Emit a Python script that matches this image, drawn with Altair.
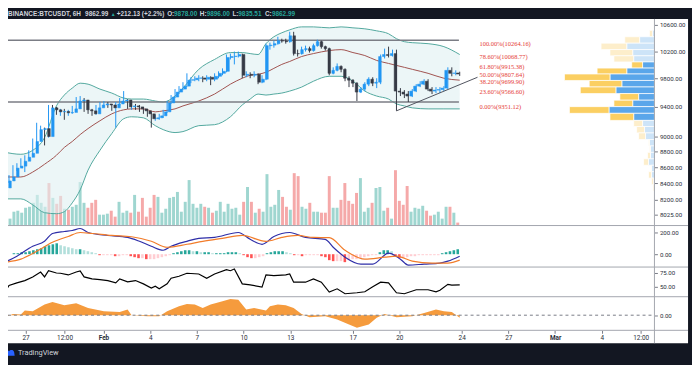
import altair as alt
import pandas as pd
import numpy as np

# ---------------- data ----------------
first_open = 8345
closes = [8431, 8480, 8591, 8616, 8678, 8729, 8780, 8933, 9090, 9104,
          8998, 9385, 9358, 9330, 9336, 9317, 9322, 9371, 9480, 9494,
          9358, 9344, 9303, 9385, 9425, 9439, 9425, 9385, 9439, 9480,
          9494, 9398, 9412, 9398, 9371, 9344, 9303, 9236, 9249, 9276,
          9330, 9453, 9535, 9605, 9647, 9689, 9774, 9780, 9802, 9806,
          9788, 9816, 9788, 9830, 9873, 9902, 10105, 10119, 10125, 10149,
          9845, 9859, 9845, 9859, 9745, 9788, 10282, 10290, 10312, 10357,
          10352, 10342, 10432, 10163, 10160, 10222, 10237, 10208, 10282, 10342,
          10267, 10237, 9873, 9916, 9974, 9931, 9802, 9774, 9731, 9605,
          9647, 9717, 9788, 9731, 9745, 10119, 10149, 10134, 10163, 9619,
          9605, 9577, 9549, 9619, 9689, 9717, 9759, 9647, 9619, 9633,
          9640, 9661, 9916, 9873, 9878, 9862.99]
highs = [8455, 8504, 8628, 8653, 8716, 8754, 8818, 8972, 9182, 9143,
         9117, 9425, 9425, 9398, 9371, 9371, 9358, 9412, 9535, 9549,
         9521, 9398, 9371, 9425, 9466, 9480, 9466, 9439, 9466, 9521,
         9619, 9507, 9453, 9439, 9425, 9398, 9371, 9330, 9290, 9303,
         9358, 9480, 9563, 9647, 9689, 9745, 9873, 9816, 9830, 9845,
         9830, 9845, 9830, 9873, 9902, 9945, 10149, 10163, 10193, 10193,
         10163, 9902, 9888, 9902, 9873, 9845, 10312, 10327, 10357, 10417,
         10387, 10387, 10493, 10493, 10222, 10267, 10282, 10267, 10312, 10372,
         10357, 10282, 10252, 9960, 10017, 9988, 9945, 9830, 9788, 9745,
         9675, 9745, 9816, 9816, 9802, 10149, 10237, 10267, 10222, 10222,
         9661, 9633, 9619, 9647, 9717, 9759, 9788, 9788, 9675, 9675,
         9675, 9689, 9960, 9960, 9916, 9896]
lows = [8321, 8406, 8470, 8554, 8603, 8541, 8716, 8754, 8920, 9038,
        8882, 8985, 9317, 9290, 9276, 9222, 9276, 9303, 9358, 9453,
        9330, 9303, 9276, 9290, 9371, 9398, 9385, 9344, 9117, 9412,
        9453, 9371, 9358, 9358, 9330, 9303, 9263, 9117, 9209, 9222,
        9249, 9317, 9439, 9521, 9577, 9633, 9675, 9731, 9759, 9759,
        9745, 9759, 9703, 9759, 9802, 9845, 9888, 10076, 10003, 10105,
        9802, 9816, 9802, 9816, 9717, 9731, 9774, 10222, 10252, 10297,
        10327, 10312, 10327, 10134, 10119, 10149, 10193, 10178, 10193, 10267,
        10237, 10208, 9845, 9859, 9902, 9888, 9759, 9675, 9675, 9480,
        9591, 9619, 9689, 9689, 9661, 9717, 10090, 10105, 10119, 9344,
        9549, 9521, 9466, 9535, 9605, 9675, 9703, 9619, 9577, 9591,
        9591, 9619, 9647, 9830, 9845, 9835.51]
volumes = [3150, 6300, 6750, 5850, 8100, 8550, 10350, 13950, 10350, 8550,
           19350, 12600, 9900, 13500, 7650, 7200, 8550, 9450, 19800, 10350,
           8100, 10350, 11700, 4950, 4950, 5400, 6750, 4050, 10800, 5850,
           6750, 5850, 13950, 6300, 12600, 4050, 8100, 13950, 13050, 5850,
           7650, 12600, 13050, 15300, 6300, 10800, 20700, 9900, 8100, 9900,
           8550, 8100, 5850, 6750, 10800, 6300, 9900, 7650, 8100, 4950,
           10800, 17550, 10800, 5850, 7650, 6300, 23400, 8550, 9450, 16200,
           13050, 8550, 7200, 23850, 22500, 8550, 7650, 10350, 6300, 6300,
           5850, 5850, 22500, 8100, 8100, 11700, 19350, 11250, 9900, 14850,
           21600, 6300, 8100, 10350, 17100, 17550, 6750, 8100, 3150, 25200,
           11250, 9450, 18000, 6300, 8100, 7650, 9000, 6750, 4500, 4950,
           6300, 3150, 8550, 8550, 5850, 1350]
macd_hist = [0, 9, 9, 18, 18, 27, 36, 45, 54, 72,
             81, 90, 99, 81, 72, 63, 54, 45, 45, 36,
             27, 18, 9, -9, -9, -9, -9, -18, -18, -9,
             -9, -18, -27, -36, -36, -45, -45, -45, -36, -27,
             -18, -9, 9, 18, 27, 36, 36, 27, 27, 18,
             18, 18, 9, 9, 9, 9, 18, 18, 18, 9,
             -9, -27, -36, -36, -27, -18, 9, 18, 27, 27,
             27, 18, 9, -9, -9, -18, -9, -9, -9, -9,
             -18, -27, -54, -63, -63, -63, -72, -54, -45, -45,
             -36, -27, -18, -9, -9, 18, 36, 36, 27, -18,
             -36, -36, -27, -18, -18, -9, -9, -9, -9, -9,
             -9, 9, 18, 27, 36, 45]

# Bollinger bands (candle index, upper, basis, lower)
bb_idx = [0, 4, 7, 10, 13, 15, 17, 19, 21, 24, 27, 30, 32, 35, 38, 40, 43, 45, 49, 53, 57,
          60, 62, 64, 66, 68, 70, 72, 75, 78, 82, 85, 88, 91, 94, 97, 99, 101, 103, 107, 111, 115]
bb_upper = [8793, 8767, 8818, 8985, 9412, 9563, 9661, 9731, 9717, 9647, 9591, 9521, 9507, 9507,
            9480, 9466, 9549, 9661, 9931, 10076, 10178, 10178, 10163, 10149, 10312, 10417, 10478,
            10523, 10569, 10569, 10554, 10569, 10554, 10539, 10508, 10463, 10387, 10342, 10327,
            10312, 10267, 10149]
bb_basis = [8480, 8480, 8541, 8640, 8754, 8856, 8933, 9024, 9104, 9209, 9303, 9358, 9371, 9371,
            9330, 9344, 9371, 9412, 9480, 9577, 9717, 9802, 9845, 9859, 9888, 9945, 10003, 10046,
            10119, 10163, 10208, 10222, 10178, 10134, 10061, 10017, 9988, 9960, 9931, 9873, 9802, 9774]
bb_lower = [8212, 8212, 8141, 8047, 8035, 8059, 8164, 8321, 8566, 8818, 9038, 9236, 9263, 9249,
            9143, 9090, 9051, 9064, 9143, 9156, 9263, 9425, 9507, 9577, 9563, 9577, 9591, 9619,
            9675, 9759, 9830, 9830, 9759, 9619, 9549, 9507, 9439, 9412, 9385, 9371, 9371, 9371]

# MACD line and signal line
macd_idx = [0, 3, 7, 10, 12, 15, 17, 19, 21, 26, 31, 34, 37, 40, 42, 46, 49, 53, 59, 62, 65, 68,
            72, 76, 81, 83, 86, 90, 93, 97, 100, 102, 106, 110, 112, 115]
macd_val = [-72, -18, 72, 117, 188, 206, 215, 233, 197, 170, 152, 117, 72, 36, 72, 117, 144, 152,
            197, 135, 90, 161, 197, 152, 135, 63, -27, -90, -90, 9, -45, -99, -90, -81, -63, -18]
sig_idx = [0, 4, 8, 12, 16, 19, 22, 27, 32, 37, 41, 46, 50, 55, 60, 66, 70, 74, 78, 82, 86, 91,
           96, 99, 103, 108, 112, 115]
sig_val = [-72, -45, 27, 108, 161, 197, 188, 170, 158, 117, 63, 90, 117, 144, 170, 117, 152, 170,
           152, 150, 36, -45, -27, -18, -63, -81, -81, -54]

# third pane (black line)
rsi_idx = [0, 1, 3, 5, 7, 9, 10, 11, 13, 14, 16, 18, 19, 20, 22, 24, 26, 28, 29, 31, 33, 35, 37,
           38, 39, 41, 42, 44, 46, 49, 51, 53, 56, 57, 58, 60, 62, 65, 66, 68, 71, 72, 73, 76, 78,
           80, 82, 84, 86, 89, 91, 93, 95, 97, 99, 101, 104, 107, 109, 110, 112, 113, 115]
rsi_val = [39.8, 51.8, 56.8, 61.0, 67.7, 76.8, 67.7, 79.2, 75.0, 74.5, 71.4, 76.8, 78.7, 67.7,
           64.1, 62.8, 61.0, 56.8, 64.1, 58.6, 61.0, 54.9, 47.1, 50.7, 45.8, 54.9, 65.3, 69.0,
           74.5, 73.2, 65.3, 73.2, 81.0, 79.2, 82.3, 54.9, 53.1, 48.9, 71.4, 70.1, 71.4, 73.2,
           58.0, 58.0, 64.1, 58.0, 39.8, 45.8, 36.7, 38.5, 40.3, 49.5, 58.0, 56.8, 38.5, 36.7,
           44.0, 44.0, 40.3, 43.1, 54.0, 52.6, 53.1]

# fourth pane (orange oscillator)
osc_idx = [0, 2, 4, 5, 7, 10, 12, 15, 18, 21, 25, 29, 31, 32, 36, 39, 41, 44, 46, 48, 50, 52, 55,
           57, 59, 61, 63, 66, 67, 69, 71, 73, 75, 77, 81, 84, 87, 89, 92, 94, 96, 99, 103, 106,
           109, 111, 113, 115]
osc_val = [-20, 13, 7, 47, 40, 107, 133, 100, 120, 73, 40, 33, 57, 0, -10, -10, 40, 90, 113, 107,
           73, 107, 140, 163, 157, 57, 73, 47, 90, 107, 100, 73, 13, -20, -10, -43, -93, -127,
           -93, -27, 13, -20, -10, 23, 57, 40, 33, -27]

# volume profile rows (price edges) and buy / sell volume per row
vp_edges = [10516, 10417, 10319, 10223, 10130, 10039, 9949, 9863, 9770, 9677, 9584, 9491, 9402,
            9310, 9214, 9132, 9046, 8959, 8875, 8792, 8709, 8627, 8546, 8466, 8386, 8308]
vp_buy = [2, 15, 28, 22, 21, 12, 28, 45, 33, 39, 16, 22, 46, 21, 12, 10, 9, 5, 4, 4, 6, 3, 3, 1, 0.5]
vp_sell = [3, 15, 26, 23, 20, 11, 30, 46, 33, 36, 19, 19, 40, 24, 9, 8, 7, 1, 1, 3, 5, 0.5, 3, 2, 1]
vp_value_area = [False, False, False, False, False, True, True, True, True, True, True, True, True,
                 True, False, False, False, False, False, False, False, False, False, False, False]

channel_levels = [10364, 9466]
fib_pct = ["100.00%", "78.60%", "61.80%", "50.00%", "38.20%", "23.60%", "0.00%"]
fib_price = [10264.16, 10068.77, 9915.38, 9807.64, 9699.90, 9566.60, 9351.12]
trend_t = ["2020-02-19 18:00", "2020-02-24 21:00"]
trend_p = [9344, 9816]

tick_days = [0, 2.5, 5, 8, 11, 14, 17, 21, 24, 28, 31, 34, 37, 39.5]
tick_text = ["27", "12:00", "Feb", "4", "7", "10", "13", "17", "20", "24", "27", "Mar", "4", "12:00"]

# ---------------- tables ----------------
day0 = pd.Timestamp("2020-01-27")
times = pd.date_range("2020-01-26 00:00", periods=len(closes), freq="6h")
tday = np.asarray((times - day0) / pd.Timedelta(days=1))

BULL, BEAR = "#2196f3", "#363a45"
c = pd.DataFrame({"t": tday, "close": closes, "high": highs, "low": lows,
                  "volume": volumes, "hist": macd_hist})
c["open"] = [first_open] + closes[:-1]
up = c["close"] >= c["open"]
c["ccol"] = np.where(up, BULL, BEAR)
c["vcol"] = np.where(up, "#9fd6d0", "#f5a9a9")
prev = c["hist"].shift(1).fillna(0)
h = c["hist"]
c["hcol"] = np.select([(h >= 0) & (h >= prev), h >= 0, h < prev],
                      ["#26a69a", "#b2dfdb", "#ff5252"], default="#ffcdd2")

bb = pd.DataFrame({"t": tday[bb_idx], "upper": bb_upper, "basis": bb_basis, "lower": bb_lower})
macd = pd.DataFrame({"t": tday[macd_idx], "v": macd_val})
sig = pd.DataFrame({"t": tday[sig_idx], "v": sig_val})
rsi = pd.DataFrame({"t": tday[rsi_idx], "v": rsi_val})
osc = pd.DataFrame({"t": tday[osc_idx], "v": osc_val})

rows = []
for k in range(len(vp_buy)):
    top, bot = vp_edges[k], vp_edges[k + 1]
    va = vp_value_area[k]
    rows.append({"top": top, "bot": bot, "a": 0, "b": vp_buy[k],
                 "col": "#5aa6ea" if va else "#cde4f8"})
    rows.append({"top": top, "bot": bot, "a": vp_buy[k], "b": vp_buy[k] + vp_sell[k],
                 "col": "#fbcf62" if va else "#fdeecb"})
vp = pd.DataFrame(rows)

chan = pd.DataFrame({"p": channel_levels, "t0": tday[0], "t1": 27.7})
fib = pd.DataFrame({"p": fib_price, "label": [f"{a}({b:.2f})" for a, b in zip(fib_pct, fib_price)]})
fib["t"] = 29.0
trend = pd.DataFrame({"t": (pd.to_datetime(trend_t) - day0) / pd.Timedelta(days=1), "p": trend_p})

# ---------------- scales ----------------
W, H = 688, 328
XS = alt.Scale(domain=[-0.8125, 40.0625], range=[0, 654], nice=False, zero=False)
PS = alt.Scale(type="log", domain=[7896.8, 10692.6], range=[209, 0], nice=False)
VS = alt.Scale(domain=[0, 94050], range=[209, 0], nice=False)
MS = alt.Scale(domain=[-116.6, 260], range=[251, 209], nice=False, zero=False)
RS = alt.Scale(domain=[31.2, 85.95], range=[281, 251], nice=False, zero=False)
OS = alt.Scale(domain=[-153, 187], range=[315, 281], nice=False, zero=False)
VPX = alt.Scale(domain=[0, 654], range=[654, 0], nice=False, zero=False)

AX_FONT = "Roboto"
def yaxis(vals):
    return alt.Axis(orient="right", offset=-34, values=vals, format=".2f", domain=False,
                    grid=False, title=None, tickSize=3, tickColor="#787b86",
                    labelFontSize=6.2, labelColor="#2a2e39", labelFont=AX_FONT, labelPadding=2)

expr = ""
for v, l in zip(tick_days, tick_text):
    expr += f"datum.value == {v} ? '{l}' : "
expr += "''"
xaxis = alt.Axis(values=tick_days, labelExpr=expr, orient="bottom", offset=-13, domain=False,
                 grid=False, title=None, tickSize=3, tickColor="#787b86", labelFontSize=6.5,
                 labelColor="#2a2e39", labelFont=AX_FONT, labelPadding=1, labelFlush=False,
                 labelOverlap=False,
                 labelFontWeight={"condition": {"test": "datum.value == 5 || datum.value == 34",
                                                "value": "bold"}, "value": "normal"})

def X(f="t"):
    return alt.X(f"{f}:Q", scale=XS, axis=None)

def Y(f, s=PS):
    return alt.Y(f"{f}:Q", scale=s, axis=None)

# ---------------- layers ----------------
vol = alt.Chart(c).mark_bar(size=3).encode(X(), Y("volume", VS), color=alt.Color("vcol:N", scale=None))
bb_fill = alt.Chart(bb).mark_area(color="#dff0f2", opacity=0.6, interpolate="monotone").encode(
    X(), Y("upper"), y2="lower:Q")
bb_up = alt.Chart(bb).mark_line(color="#52a89e", strokeWidth=1, interpolate="monotone").encode(X(), Y("upper"))
bb_lo = alt.Chart(bb).mark_line(color="#52a89e", strokeWidth=1, interpolate="monotone").encode(X(), Y("lower"))
bb_mid = alt.Chart(bb).mark_line(color="#a0524f", strokeWidth=1, interpolate="monotone").encode(X(), Y("basis"))
chan_l = alt.Chart(chan).mark_rule(color="#7b7d85", strokeWidth=1.5).encode(X("t0"), x2="t1:Q", y=Y("p"))
wick = alt.Chart(c).mark_rule(strokeWidth=1).encode(X(), Y("low"), y2="high:Q",
                                                    color=alt.Color("ccol:N", scale=None))
body = alt.Chart(c).mark_bar(size=2.6, strokeWidth=0.5).encode(
    alt.X("t:Q", scale=XS, axis=xaxis),
    alt.Y("open:Q", scale=PS, axis=yaxis([8025, 8200, 8400, 8600, 8800, 9000, 9400, 9800, 10200, 10600])),
    y2="close:Q", color=alt.Color("ccol:N", scale=None), stroke=alt.Stroke("ccol:N", scale=None))
trend_l = alt.Chart(trend).mark_line(color="#50535e", strokeWidth=1).encode(X(), Y("p"))
fib_t = alt.Chart(fib).mark_text(align="left", baseline="bottom", fontSize=6.5, color="#e53935",
                                 font="Liberation Sans Narrow").encode(X(), Y("p"), text="label:N")
vp_l = alt.Chart(vp).mark_bar(stroke="white", strokeWidth=0.7).encode(
    alt.X("a:Q", scale=VPX, axis=None), x2="b:Q", y=Y("top"), y2="bot:Q",
    color=alt.Color("col:N", scale=None))

hist_l = alt.Chart(c).mark_bar(size=2.6).encode(X(), Y("hist", MS), color=alt.Color("hcol:N", scale=None))
macd_l = alt.Chart(macd).mark_line(color="#2e2ea8", strokeWidth=1.2, interpolate="monotone").encode(
    X(), alt.Y("v:Q", scale=MS, axis=yaxis([0, 200])))
sig_l = alt.Chart(sig).mark_line(color="#f27c2a", strokeWidth=1.2, interpolate="monotone").encode(X(), Y("v", MS))
rsi_l = alt.Chart(rsi).mark_line(color="#000000", strokeWidth=1.2).encode(
    X(), alt.Y("v:Q", scale=RS, axis=yaxis([50, 75])))
osc_a = alt.Chart(osc).mark_area(color="#f59b3d", opacity=1, interpolate="linear").encode(
    X(), alt.Y("v:Q", scale=OS, axis=yaxis([0])), y2=alt.Y2Datum(0))
zero_l = alt.Chart(pd.DataFrame({"z": [0]})).mark_rule(color="#787b86", strokeDash=[3, 3], strokeWidth=1).encode(
    x=alt.value(0), x2=alt.value(654), y=alt.Y("z:Q", scale=OS, axis=None))

def hrule(yv):
    return alt.Chart(pd.DataFrame({"k": [0]})).mark_rule(color="#a3a6ae", strokeWidth=1).encode(
        x=alt.value(0), x2=alt.value(W), y=alt.value(yv))

vline = alt.Chart(pd.DataFrame({"k": [0]})).mark_rule(color="#a3a6ae", strokeWidth=1).encode(
    x=alt.value(654), y=alt.value(0), y2=alt.value(H))

HFONT = "Liberation Sans"
def txt(s, x, y, color, size=6.5, weight="bold", font=HFONT):
    return alt.Chart(pd.DataFrame({"s": [s]})).mark_text(
        align="left", baseline="middle", fontSize=size, fontWeight=weight, color=color, font=font
    ).encode(x=alt.value(x), y=alt.value(y), text="s:N")

WHITE, TEAL = "#d1d4dc", "#26a69a"
HY = -4.5
header = [
    txt("BINANCE:BTCUSDT, 6H", 0, HY, WHITE),
    txt("9862.99", 78, HY, WHITE),
    txt("▲", 104, HY, TEAL, size=5),
    txt("+212.13 (+2.2%)", 110, HY, WHITE),
    txt("O:", 161, HY, WHITE), txt("9878.00", 168, HY, TEAL),
    txt("H:", 194, HY, WHITE), txt("9896.00", 201, HY, TEAL),
    txt("L:", 227, HY, WHITE), txt("9835.51", 233, HY, TEAL),
    txt("C:", 260, HY, WHITE), txt("9862.99", 267, HY, TEAL),
]
logo = alt.Chart(pd.DataFrame({"k": [0]})).mark_point(
    shape="M-1,0.6 L-1,-0.1 A0.45,0.45 0 0 1 -0.2,-0.4 A0.6,0.6 0 0 1 0.9,-0.1 L1,0.6 Z",
    filled=True, color="#2962ff", size=90, opacity=1).encode(x=alt.value(2), y=alt.value(338))
footer = txt("TradingView", 10, 338, WHITE, size=7.5, weight="normal", font="Roboto")

chart = alt.layer(
    vol, bb_fill, bb_up, bb_lo, bb_mid, chan_l, wick, body, trend_l, fib_t, vp_l,
    hist_l, macd_l, sig_l, rsi_l, osc_a, zero_l,
    hrule(209), hrule(251), hrule(281), hrule(315), vline,
    *header, logo, footer,
).resolve_scale(x="independent", y="independent").properties(
    width=W, height=H,
    autosize=alt.AutoSizeParams(type="none"),
    padding={"left": 0, "top": 9, "right": 4, "bottom": 20},
    background="#131722",
).configure_view(fill="white", stroke=None)

chart.save("out.html", embed_options={"renderer": "svg", "actions": False})
